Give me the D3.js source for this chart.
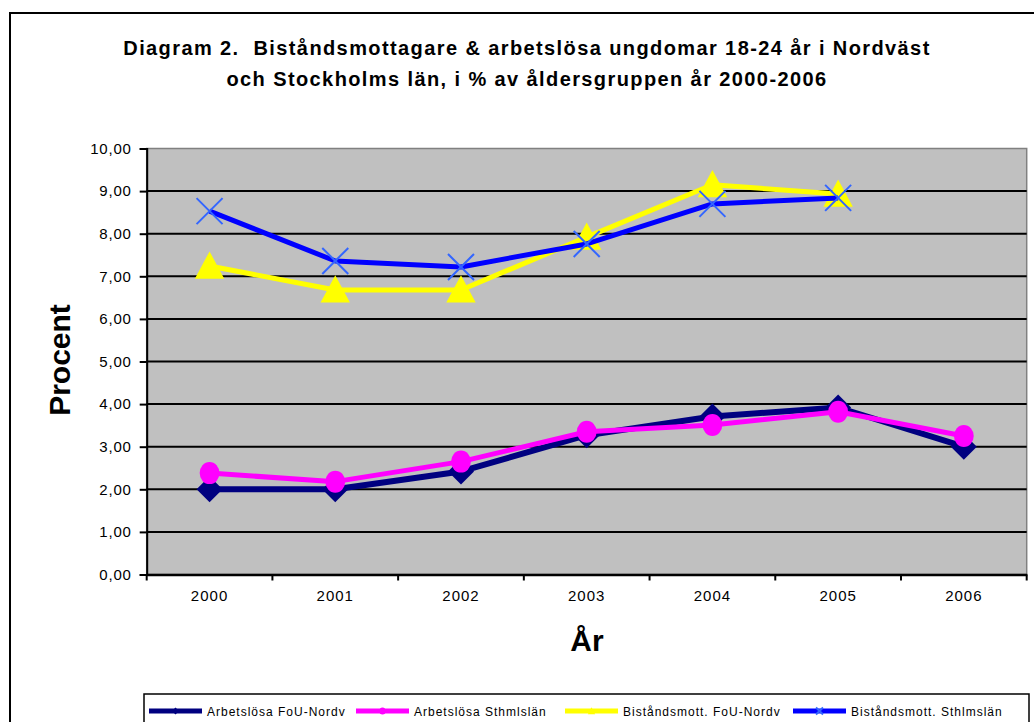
<!DOCTYPE html>
<html lang="sv">
<head>
<meta charset="UTF-8">
<title>Diagram 2</title>
<script src="https://d3js.org/d3.v7.min.js"></script>
<style>
  body { margin: 0; background: #fff; }
  svg { font-family: Arial, "Liberation Sans", sans-serif; }
</style>
</head>
<body>
<script>
// chart data
const years = ["2000", "2001", "2002", "2003", "2004", "2005", "2006"];
const arbetslosaFoU = [2.00, 2.00, 2.42, 3.27, 3.71, 3.92, 3.00];
const arbetslosaSthlm = [2.38, 2.18, 2.65, 3.35, 3.51, 3.82, 3.25];
const bistandFoU = [7.24, 6.68, 6.68, 7.92, 9.15, 8.93, null];
const bistandSthlm = [8.53, 7.36, 7.22, 7.76, 8.70, 8.84, null];
const yTicks = [0, 1, 2, 3, 4, 5, 6, 7, 8, 9, 10];

const series = [
  { name: "Arbetslösa FoU-Nordv", values: arbetslosaFoU, color: "#000080", width: 6, marker: "diamond" },
  { name: "Arbetslösa Sthmlslän", values: arbetslosaSthlm, color: "#FF00FF", width: 5, marker: "circle" },
  { name: "Biståndsmott. FoU-Nordv", values: bistandFoU, color: "#FFFF00", width: 5, marker: "triangle" },
  { name: "Biståndsmott. Sthlmslän", values: bistandSthlm, color: "#0000FF", width: 5, marker: "x" }
];

const W = 1034, H = 722;
const plot = { left: 146.7, top: 148.5, right: 1026.7, bottom: 574.5 };

const svg = d3.select("body").append("svg")
  .attr("width", W)
  .attr("height", H);

// outer frame (right and bottom edges fall outside the picture)
svg.append("rect")
  .attr("x", 10).attr("y", 13)
  .attr("width", 1040).attr("height", 760)
  .attr("fill", "#fff").attr("stroke", "#000").attr("stroke-width", 2);

// title
const title = svg.append("text")
  .attr("text-anchor", "middle")
  .attr("font-weight", "bold")
  .attr("font-size", 20)
  .attr("letter-spacing", 1.4);
title.append("tspan").attr("x", 527).attr("y", 55)
  .text("Diagram 2.\u00a0 Biståndsmottagare & arbetslösa ungdomar 18-24 år i Nordväst");
title.append("tspan").attr("x", 527).attr("y", 86)
  .text("och Stockholms län, i % av åldersgruppen år 2000-2006");

const x = d3.scaleBand().domain(years).range([plot.left, plot.right]);
const y = d3.scaleLinear().domain([0, 10]).range([plot.bottom, plot.top]);

// plot background
svg.append("rect")
  .attr("x", plot.left).attr("y", plot.top)
  .attr("width", plot.right - plot.left).attr("height", plot.bottom - plot.top)
  .attr("fill", "#C0C0C0").attr("stroke", "#808080").attr("stroke-width", 1.5);

// gridlines
svg.append("g")
  .selectAll("line")
  .data(yTicks.filter(d => d > 0 && d < 10))
  .enter().append("line")
  .attr("x1", plot.left).attr("x2", plot.right)
  .attr("y1", d => y(d)).attr("y2", d => y(d))
  .attr("stroke", "#000").attr("stroke-width", 2);

// y axis
const yAxis = svg.append("g")
  .attr("transform", `translate(${plot.left},0)`)
  .call(d3.axisLeft(y).tickValues(yTicks).tickSize(7).tickPadding(8)
    .tickFormat(d => d3.format(".2f")(d).replace(".", ",")));
yAxis.select(".domain").attr("stroke-width", 2);
yAxis.selectAll(".tick line").attr("stroke-width", 2);
yAxis.selectAll("text").attr("font-size", 15).attr("letter-spacing", 0.8)
  .attr("font-family", "Arial, 'Liberation Sans', sans-serif").attr("fill", "#000");

// x axis
const xAxis = svg.append("g")
  .attr("transform", `translate(0,${plot.bottom})`)
  .call(d3.axisBottom(x).tickSize(0).tickPadding(16));
xAxis.select(".domain").attr("stroke-width", 2.5);
xAxis.selectAll("text").attr("font-size", 15).attr("letter-spacing", 1)
  .attr("font-family", "Arial, 'Liberation Sans', sans-serif").attr("fill", "#000");
svg.append("g")
  .selectAll("line")
  .data(years.concat(["end"]))
  .enter().append("line")
  .attr("x1", (d, i) => plot.left + i * x.step())
  .attr("x2", (d, i) => plot.left + i * x.step())
  .attr("y1", plot.bottom).attr("y2", plot.bottom + 6)
  .attr("stroke", "#000").attr("stroke-width", 2);

// axis titles
svg.append("text")
  .attr("transform", "translate(70,360) rotate(-90)")
  .attr("text-anchor", "middle")
  .attr("font-weight", "bold").attr("font-size", 30)
  .text("Procent");
svg.append("text")
  .attr("x", 587).attr("y", 651)
  .attr("text-anchor", "middle")
  .attr("font-weight", "bold").attr("font-size", 30)
  .text("År");

// markers
function drawMarker(g, type, cx, cy, s, color) {
  if (type === "diamond") {
    g.append("path")
      .attr("d", `M${cx},${cy - s}L${cx + s},${cy}L${cx},${cy + s}L${cx - s},${cy}Z`)
      .attr("fill", color);
  } else if (type === "circle") {
    g.append("ellipse").attr("cx", cx).attr("cy", cy)
      .attr("rx", s * 0.9).attr("ry", s).attr("fill", color);
  } else if (type === "triangle") {
    g.append("path")
      .attr("d", `M${cx},${cy - s * 1.05}L${cx + s * 1.05},${cy + s * 0.9}L${cx - s * 1.05},${cy + s * 0.9}Z`)
      .attr("fill", color);
  } else if (type === "x") {
    g.append("path")
      .attr("d", `M${cx - s},${cy - s}L${cx + s},${cy + s}M${cx + s},${cy - s}L${cx - s},${cy + s}`)
      .attr("stroke", "#3366FF").attr("stroke-width", 2).attr("fill", "none");
  }
}

const markerSize = { diamond: 13, circle: 11, triangle: 14, x: 13 };

series.forEach(s => {
  const pts = s.values.map((v, i) => ({ year: years[i], v })).filter(p => p.v !== null);
  const g = svg.append("g");
  g.append("path")
    .datum(pts)
    .attr("fill", "none")
    .attr("stroke", s.color)
    .attr("stroke-width", s.width)
    .attr("stroke-linejoin", "round")
    .attr("d", d3.line().x(p => x(p.year) + x.bandwidth() / 2).y(p => y(p.v)));
  pts.forEach(p => drawMarker(g, s.marker, x(p.year) + x.bandwidth() / 2, y(p.v), markerSize[s.marker], s.color));
});

// legend
const legend = svg.append("g");
legend.append("rect")
  .attr("x", 144).attr("y", 694)
  .attr("width", 885).attr("height", 40)
  .attr("fill", "#fff").attr("stroke", "#000").attr("stroke-width", 1.5);
const legendX = [149, 356, 565, 793];
series.forEach((s, i) => {
  const lx = legendX[i], ly = 711;
  const g = legend.append("g");
  g.append("line")
    .attr("x1", lx).attr("x2", lx + 53)
    .attr("y1", ly).attr("y2", ly)
    .attr("stroke", s.color).attr("stroke-width", 5);
  drawMarker(g, s.marker, lx + 26.5, ly, 3.5, s.color);
  g.append("text")
    .attr("x", lx + 58).attr("y", ly + 5)
    .attr("font-size", 12).attr("letter-spacing", 1)
    .text(s.name);
});
</script>
</body>
</html>
